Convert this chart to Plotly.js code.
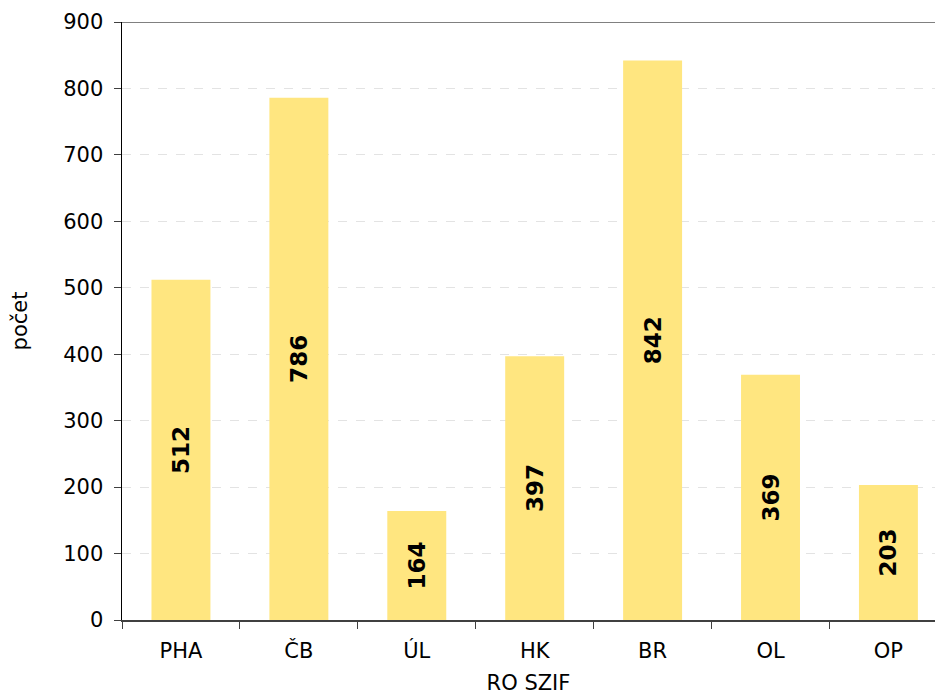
<!DOCTYPE html>
<html>
<head>
<meta charset="utf-8">
<script src="https://cdn.plot.ly/plotly-3.0.1.min.js"></script>
<style>html,body{margin:0;padding:0;background:#fff;}#chart{width:935px;height:695px;}</style>
</head>
<body>
<div id="chart"></div>
<script>
const categories = ["PHA", "ČB", "ÚL", "HK", "BR", "OL", "OP"];
const counts = [512, 786, 164, 397, 842, 369, 203];
const yTicks = [0, 100, 200, 300, 400, 500, 600, 700, 800, 900];

const font = "DejaVu Sans, Verdana, sans-serif";

const trace = {
  type: "bar",
  x: categories,
  y: counts,
  width: 0.5,
  marker: {color: "#FFE680", line: {width: 0}},
  text: counts.map(String),
  textposition: "inside",
  insidetextanchor: "middle",
  textangle: -90,
  constraintext: "none",
  textfont: {family: font, size: 23, color: "#000", weight: "bold"},
  hoverinfo: "x+y"
};

const layout = {
  width: 935,
  height: 695,
  margin: {l: 122, r: 0, t: 22, b: 75},
  paper_bgcolor: "#fff",
  plot_bgcolor: "#fff",
  showlegend: false,
  font: {family: font, size: 21, color: "#000"},
  bargap: 0.5,
  xaxis: {
    type: "category",
    range: [-0.5, 6.395],
    tickson: "boundaries",
    ticks: "outside",
    ticklen: 7,
    tickcolor: "#404040",
    ticklabelstandoff: 11,
    showline: true,
    linecolor: "#404040",
    linewidth: 2,
    showgrid: false,
    zeroline: false,
    tickfont: {family: font, size: 21, color: "#000"},
    title: {text: "RO SZIF", font: {family: font, size: 21, color: "#000"}, standoff: 18}
  },
  yaxis: {
    range: [0, 900],
    tickvals: yTicks,
    ticks: "outside",
    ticklen: 7,
    tickcolor: "#404040",
    ticklabelstandoff: 6,
    showline: true,
    linecolor: "#000",
    linewidth: 1.5,
    showgrid: true,
    gridcolor: "#e3e3e3",
    griddash: "dash",
    zeroline: false,
    tickfont: {family: font, size: 21, color: "#000"},
    title: {text: "počet", font: {family: font, size: 21, color: "#000"}, standoff: 30}
  },
  shapes: [{
    type: "line", xref: "paper", yref: "y",
    x0: 0, x1: 1, y0: 900, y1: 900,
    line: {color: "#808080", width: 2}
  }]
};

Plotly.newPlot("chart", [trace], layout, {displayModeBar: false, staticPlot: true});
</script>
</body>
</html>
